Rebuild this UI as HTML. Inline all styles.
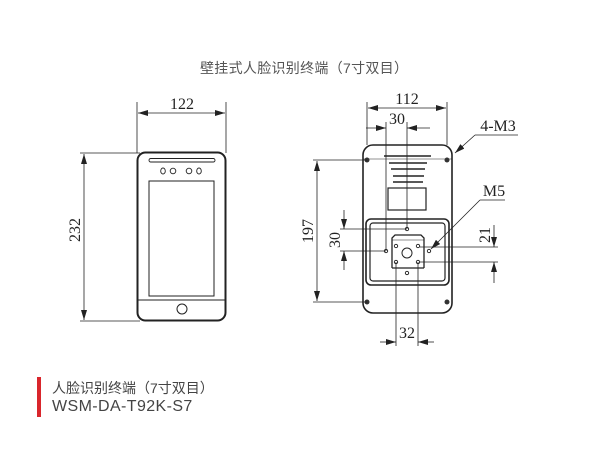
<!DOCTYPE html>
<html><head><meta charset="utf-8"><style>
body{margin:0;background:#fff;width:600px;height:450px;overflow:hidden;position:relative;font-family:"Liberation Sans","Noto Sans CJK SC",sans-serif}
.t{position:absolute;white-space:nowrap}
</style></head><body>
<div class="t" style="left:200px;top:58px;font-size:14px;color:#555;letter-spacing:0.3px">壁挂式人脸识别终端（7寸双目）</div>
<div style="position:absolute;left:37px;top:377px;width:4px;height:40px;background:#d9262c"></div>
<div class="t" style="left:52px;top:378px;font-size:14px;color:#444">人脸识别终端（7寸双目）</div>
<div class="t" style="left:52px;top:398px;font-size:16px;color:#444;letter-spacing:0.4px">WSM-DA-T92K-S7</div>
<svg width="600" height="450" style="position:absolute;left:0;top:0" font-family="Liberation Serif,serif" font-size="16" fill="none" stroke="#222">
<defs><marker id="a" viewBox="0 0 10 6" refX="10" refY="3" markerWidth="10" markerHeight="6" orient="auto-start-reverse" markerUnits="userSpaceOnUse"><path d="M0,0L10,3L0,6z" fill="#222" stroke="none"/></marker></defs>
<g stroke-width="0.8">
<line x1="137" y1="102" x2="137" y2="153"/><line x1="226" y1="102" x2="226" y2="153"/>
<line x1="138" y1="113" x2="225" y2="113" marker-start="url(#a)" marker-end="url(#a)"/>
<line x1="80" y1="153" x2="140" y2="153"/><line x1="80" y1="321" x2="140" y2="321"/>
<line x1="84" y1="154" x2="84" y2="320" marker-start="url(#a)" marker-end="url(#a)"/>
</g>
<g fill="#222" stroke="none">
<text x="182" y="109" text-anchor="middle">122</text>
<text transform="translate(80,230) rotate(-90)" text-anchor="middle">232</text>
</g>
<rect x="137.5" y="152.5" width="88" height="168" rx="8" stroke-width="2"/>
<rect x="149" y="158.5" width="66" height="3.5" rx="1.7" stroke-width="0.9"/>
<g stroke-width="0.9"><ellipse cx="163" cy="171" rx="2.3" ry="3"/><circle cx="173" cy="171" r="2.8"/><circle cx="189" cy="171" r="2.8"/><ellipse cx="199" cy="171" rx="2.3" ry="3"/></g>
<rect x="149" y="181" width="65" height="115" stroke-width="1"/>
<line x1="138" y1="300" x2="225" y2="300" stroke-width="0.9"/>
<circle cx="182" cy="309" r="5" stroke-width="1"/>
<rect x="363" y="145" width="89" height="168" rx="10" stroke-width="1.6"/>
<line x1="363" y1="159" x2="452" y2="159" stroke-width="0.5"/>
<g fill="#333" stroke="none"><circle cx="367" cy="160" r="2.5"/><circle cx="447" cy="160" r="2.5"/><circle cx="367" cy="302" r="2.5"/><circle cx="447" cy="302" r="2.5"/></g>
<g stroke-width="1.5"><line x1="384" y1="156" x2="431" y2="156"/><line x1="389" y1="163" x2="427" y2="163"/><line x1="391" y1="169" x2="425" y2="169"/><line x1="393" y1="176" x2="424" y2="176"/><line x1="393" y1="182" x2="423" y2="182"/></g>
<rect x="388" y="188" width="38" height="22" stroke-width="1.2"/>
<rect x="366" y="219" width="83" height="66" rx="5" stroke-width="1.6"/>
<rect x="370" y="223" width="75" height="58" rx="3" stroke-width="1.2"/>
<path d="M392 268 L392 238 L395 235 L421 235 L424 238 L424 268" stroke-width="1.3"/>
<line x1="392" y1="268" x2="424" y2="268" stroke-width="1.3"/>
<line x1="392" y1="240" x2="424" y2="240" stroke-width="0.6"/>
<circle cx="407" cy="253" r="5" stroke-width="1"/>
<g stroke-width="0.9"><circle cx="396" cy="246" r="1.7"/><circle cx="418" cy="246" r="1.7"/><circle cx="396" cy="262" r="1.7"/><circle cx="418" cy="262" r="1.7"/><circle cx="407" cy="229" r="1.7"/><circle cx="386" cy="251" r="1.7"/><circle cx="407" cy="273" r="1.7"/><circle cx="429" cy="251" r="1.7"/></g>
<g stroke-width="0.8">
<line x1="367" y1="102" x2="367" y2="145"/><line x1="447" y1="102" x2="447" y2="145"/>
<line x1="368" y1="108" x2="446" y2="108" marker-start="url(#a)" marker-end="url(#a)"/>
<line x1="386" y1="122" x2="386" y2="251"/><line x1="407" y1="122" x2="407" y2="229"/>
<line x1="366" y1="128" x2="386" y2="128" marker-end="url(#a)"/><line x1="430" y1="128" x2="407" y2="128" marker-end="url(#a)"/>
<line x1="313" y1="160" x2="367" y2="160"/><line x1="313" y1="302" x2="367" y2="302"/>
<line x1="317" y1="161" x2="317" y2="301" marker-start="url(#a)" marker-end="url(#a)"/>
<line x1="340" y1="229" x2="407" y2="229"/><line x1="340" y1="251" x2="386" y2="251"/>
<line x1="344" y1="210" x2="344" y2="229" marker-end="url(#a)"/><line x1="344" y1="270" x2="344" y2="251" marker-end="url(#a)"/>
<line x1="420" y1="247" x2="498" y2="247"/><line x1="420" y1="262" x2="498" y2="262"/>
<line x1="494" y1="225" x2="494" y2="247" marker-end="url(#a)"/><line x1="494" y1="283" x2="494" y2="262" marker-end="url(#a)"/>
<line x1="396" y1="262" x2="396" y2="346"/><line x1="418" y1="262" x2="418" y2="346"/>
<line x1="380" y1="342" x2="396" y2="342" marker-end="url(#a)"/><line x1="434" y1="342" x2="418" y2="342" marker-end="url(#a)"/>
<line x1="475" y1="135" x2="455" y2="153" marker-end="url(#a)"/><line x1="475" y1="135" x2="518" y2="135"/>
<line x1="480" y1="200" x2="431" y2="249" marker-end="url(#a)"/><line x1="480" y1="200" x2="505" y2="200"/>
</g>
<g fill="#222" stroke="none">
<text x="407" y="104" text-anchor="middle">112</text>
<text x="397" y="124" text-anchor="middle">30</text>
<text x="498" y="131" text-anchor="middle">4-M3</text>
<text x="494" y="196" text-anchor="middle">M5</text>
<text x="407" y="338" text-anchor="middle">32</text>
<text transform="translate(313,231) rotate(-90)" text-anchor="middle">197</text>
<text transform="translate(340,240) rotate(-90)" text-anchor="middle">30</text>
<text transform="translate(490,235) rotate(-90)" text-anchor="middle">21</text>
</g>
</svg>
</body></html>
